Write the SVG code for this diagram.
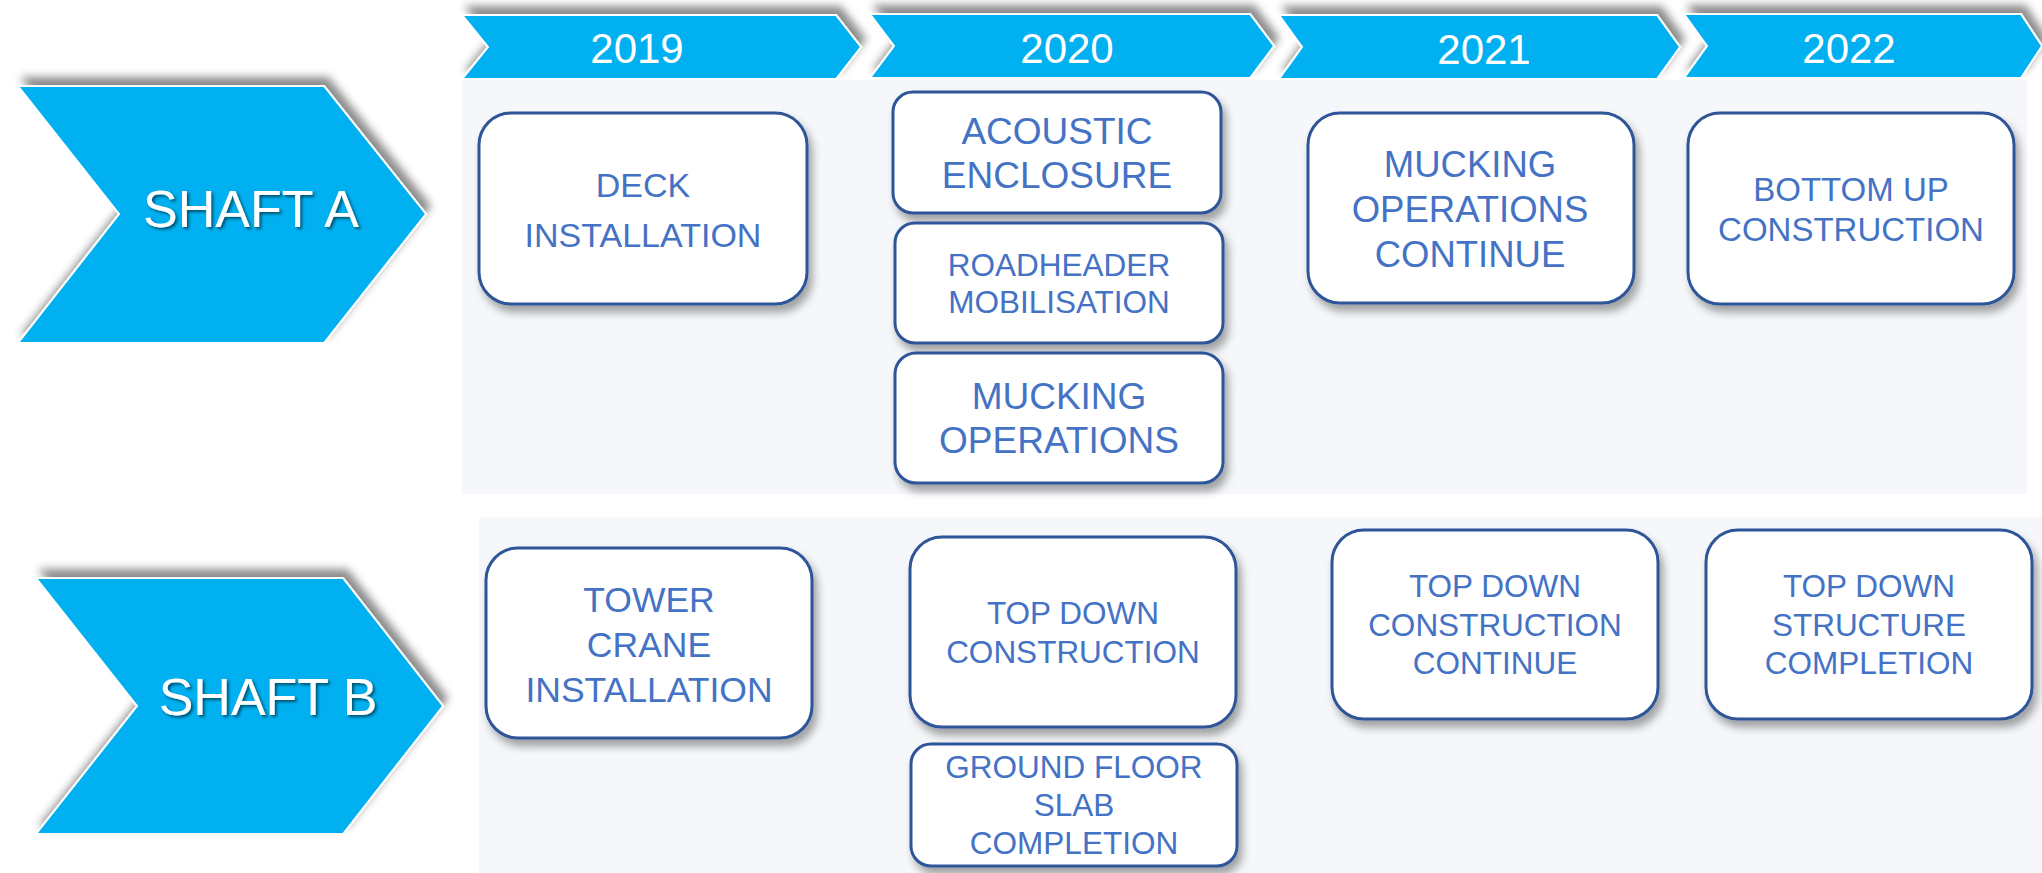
<svg xmlns="http://www.w3.org/2000/svg" width="2042" height="873" viewBox="0 0 2042 873">
<defs>
<filter id="chevShadow" x="-10%" y="-30%" width="125%" height="160%">
<feDropShadow dx="4" dy="-8" stdDeviation="4" flood-color="#000" flood-opacity="0.45"/>
</filter>
<filter id="boxShadow" x="-10%" y="-10%" width="130%" height="135%">
<feDropShadow dx="4" dy="7" stdDeviation="4" flood-color="#000" flood-opacity="0.35"/>
</filter>
<filter id="txtShadow" x="-10%" y="-20%" width="120%" height="150%">
<feDropShadow dx="2" dy="2" stdDeviation="1.5" flood-color="#000" flood-opacity="0.55"/>
</filter>
<style>
.chev{fill:#00b0f0;stroke:#ffffff;stroke-width:2;filter:url(#chevShadow)}
.panel{fill:#f5f7fa}
.box{fill:#ffffff;stroke:#2f5597;stroke-width:3;filter:url(#boxShadow)}
.bt{font-family:"Liberation Sans",Arial,sans-serif;fill:#4472c4;text-anchor:middle}
.yr{font-family:"Liberation Sans",Arial,sans-serif;fill:#ffffff;text-anchor:middle;font-size:42px}
.sh{font-family:"Liberation Sans",Arial,sans-serif;fill:#ffffff;text-anchor:middle;font-size:52px;filter:url(#txtShadow)}
</style>
</defs>
<rect width="2042" height="873" fill="#ffffff"/>
<g id="panels">
<rect class="panel" x="462" y="80" width="1565" height="414"/>
<rect class="panel" x="479" y="517" width="1563" height="356"/>
</g>
<g id="shaftA">
<polygon class="chev" points="18,86 324,86 426,214 324,343 18,343 119,214"/>
<text class="sh" x="251" y="227">SHAFT A</text>
</g>
<g id="shaftB">
<polygon class="chev" points="36,578 343,578 443,706 343,834 36,834 137,706"/>
<text class="sh" x="268" y="715">SHAFT B</text>
</g>
<g id="y2019">
<polygon class="chev" points="462,15 836,15 861,47 836,79 462,79 488,47"/>
<text class="yr" x="637" y="63">2019</text>
</g>
<g id="y2020">
<polygon class="chev" points="870,14 1250,14 1274,46 1250,78 870,78 894,46"/>
<text class="yr" x="1067" y="63">2020</text>
</g>
<g id="y2021">
<polygon class="chev" points="1279,15 1657,15 1680,47 1657,79 1279,79 1302,47"/>
<text class="yr" x="1484" y="64">2021</text>
</g>
<g id="y2022">
<polygon class="chev" points="1684,14 2021,14 2042,46 2021,78 1684,78 1707,46"/>
<text class="yr" x="1849" y="63">2022</text>
</g>
<g id="deck">
<rect class="box" x="479" y="113" width="328" height="191" rx="32"/>
<text class="bt" font-size="34" x="643" y="197">DECK</text>
<text class="bt" font-size="34" x="643" y="247">INSTALLATION</text>
</g>
<g id="acoustic">
<rect class="box" x="893" y="92" width="328" height="121" rx="20"/>
<text class="bt" font-size="37" x="1057" y="144">ACOUSTIC</text>
<text class="bt" font-size="37" x="1057" y="188">ENCLOSURE</text>
</g>
<g id="roadheader">
<rect class="box" x="895" y="223" width="328" height="120" rx="20"/>
<text class="bt" font-size="31.5" x="1059" y="276">ROADHEADER</text>
<text class="bt" font-size="31.5" x="1059" y="313">MOBILISATION</text>
</g>
<g id="mucking">
<rect class="box" x="895" y="353" width="328" height="130" rx="21"/>
<text class="bt" font-size="37" x="1059" y="409">MUCKING</text>
<text class="bt" font-size="37" x="1059" y="453">OPERATIONS</text>
</g>
<g id="muckingContinue">
<rect class="box" x="1308" y="113" width="326" height="190" rx="32"/>
<text class="bt" font-size="36.5" x="1470" y="177">MUCKING</text>
<text class="bt" font-size="36.5" x="1470" y="222">OPERATIONS</text>
<text class="bt" font-size="36.5" x="1470" y="267">CONTINUE</text>
</g>
<g id="bottomUp">
<rect class="box" x="1688" y="113" width="326" height="191" rx="32"/>
<text class="bt" font-size="33" x="1851" y="201">BOTTOM UP</text>
<text class="bt" font-size="33" x="1851" y="241">CONSTRUCTION</text>
</g>
<g id="towerCrane">
<rect class="box" x="486" y="548" width="326" height="190" rx="32"/>
<text class="bt" font-size="35.5" x="649" y="612">TOWER</text>
<text class="bt" font-size="35.5" x="649" y="657">CRANE</text>
<text class="bt" font-size="35.5" x="649" y="702">INSTALLATION</text>
</g>
<g id="topDown2020">
<rect class="box" x="910" y="537" width="326" height="190" rx="32"/>
<text class="bt" font-size="31.5" x="1073" y="624">TOP DOWN</text>
<text class="bt" font-size="31.5" x="1073" y="663">CONSTRUCTION</text>
</g>
<g id="groundFloor">
<rect class="box" x="911" y="744" width="326" height="122" rx="20"/>
<text class="bt" font-size="31.5" x="1074" y="778">GROUND FLOOR</text>
<text class="bt" font-size="31.5" x="1074" y="816">SLAB</text>
<text class="bt" font-size="31.5" x="1074" y="854">COMPLETION</text>
</g>
<g id="topDown2021">
<rect class="box" x="1332" y="530" width="326" height="189" rx="32"/>
<text class="bt" font-size="31.5" x="1495" y="597">TOP DOWN</text>
<text class="bt" font-size="31.5" x="1495" y="636">CONSTRUCTION</text>
<text class="bt" font-size="31.5" x="1495" y="674">CONTINUE</text>
</g>
<g id="topDown2022">
<rect class="box" x="1706" y="530" width="326" height="189" rx="32"/>
<text class="bt" font-size="31.5" x="1869" y="597">TOP DOWN</text>
<text class="bt" font-size="31.5" x="1869" y="636">STRUCTURE</text>
<text class="bt" font-size="31.5" x="1869" y="674">COMPLETION</text>
</g>
<g id="connectors"></g>
</svg>
